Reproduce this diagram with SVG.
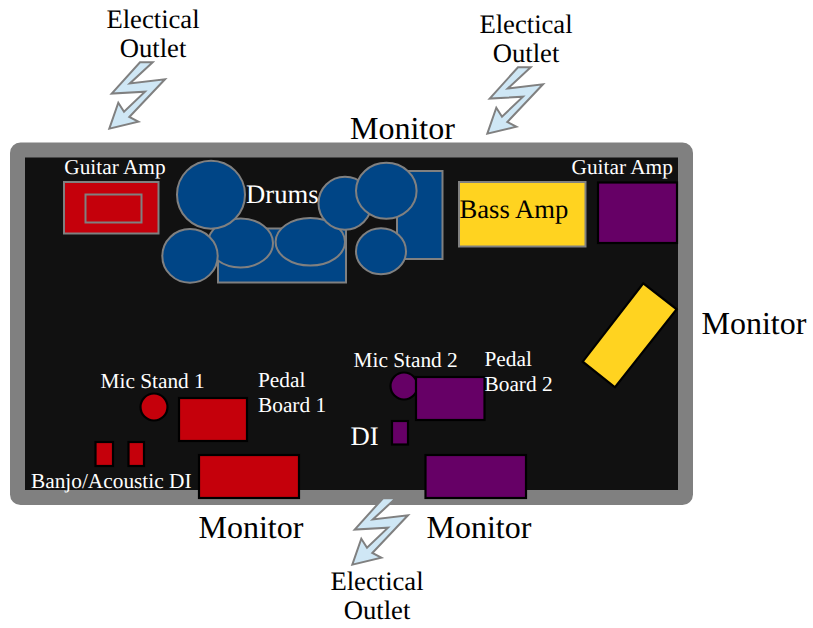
<svg xmlns="http://www.w3.org/2000/svg" width="813" height="628" viewBox="0 0 813 628">
<style>
text{font-family:"Liberation Serif","Times New Roman",serif;text-rendering:geometricPrecision}
.w{fill:#fff}.k{fill:#000}
.s{font-size:21.33px}.m{font-size:26.67px}.l{font-size:32px}
.c{text-anchor:middle}
.g{stroke:#808080;stroke-width:2}
.b{stroke:#000;stroke-width:2.2}
.blue{fill:#004586}.red{fill:#c5000b}.pur{fill:#660066}.yel{fill:#ffd320}
.bolt{fill:#cfe7f5;stroke:#808080;stroke-width:2;stroke-linejoin:miter}
</style>
<defs>
<polygon id="boltShape" class="bolt" points="140,62.300 152.700,62.300 129.800,83.500 165,79.300 129.300,117 138.300,121.700 109.300,128.700 118.300,102.700 124,111.700 145,91.700 111.700,93.500"/>
</defs>
<g id="stage"><rect x="17.5" y="150" width="668" height="347.5" rx="3" fill="#111" stroke="#808080" stroke-width="15"/></g>
<g id="outlet-1"><use href="#boltShape"/><text class="m c k" x="153" y="28">Electical</text><text class="m c k" x="153" y="57">Outlet</text></g>
<g id="outlet-2"><use href="#boltShape" x="378" y="5"/><text class="m c k" x="526" y="33">Electical</text><text class="m c k" x="526" y="62">Outlet</text></g>
<g id="outlet-3"><use href="#boltShape" x="243" y="436"/><text class="m c k" x="377" y="590">Electical</text><text class="m c k" x="377" y="619">Outlet</text></g>
<g id="guitar-amp-1"><rect class="red g" x="64" y="182" width="94.500" height="51.500"/><rect class="red g" x="85.500" y="194.500" width="56" height="28"/><text class="s w" x="64.300" y="174.300">Guitar Amp</text></g>
<g id="drums">
<rect class="blue g" x="218" y="228.500" width="128" height="54"/>
<rect class="blue g" x="397" y="171" width="45.500" height="88"/>
<ellipse class="blue g" cx="240.500" cy="243" rx="32.500" ry="24.500"/>
<ellipse class="blue g" cx="310.300" cy="241.800" rx="34.700" ry="23.800"/>
<circle class="blue g" cx="211" cy="194.700" r="34"/>
<ellipse class="blue g" cx="190" cy="255.900" rx="27.700" ry="26.800"/>
<circle class="blue g" cx="345" cy="203.300" r="26.500"/>
<ellipse class="blue g" cx="386.300" cy="190.700" rx="30.300" ry="28"/>
<ellipse class="blue g" cx="381" cy="251.300" rx="25" ry="23"/>
<text class="m w" x="246" y="202.700">Drums</text>
</g>
<g id="bass-amp"><rect class="yel g" x="459" y="182" width="126.500" height="64.500"/><text class="m k" x="459.500" y="217.700">Bass Amp</text></g>
<g id="guitar-amp-2"><rect class="pur b" x="598" y="182.500" width="79" height="60.500"/><text class="s w" x="571.500" y="174.300">Guitar Amp</text></g>
<g id="monitor-side"><polygon class="yel b" points="643.300,283.300 676.700,309.300 615,387.300 582.700,361.700"/><text class="l k" x="701.500" y="334">Monitor</text></g>
<g id="monitor-top"><text class="l k" x="350" y="139">Monitor</text></g>
<g id="mic-1"><circle class="red b" cx="154" cy="407" r="13.500"/><text class="s w" x="100.500" y="388.300">Mic Stand 1</text></g>
<g id="pedal-1"><rect class="red b" x="179" y="398" width="68" height="43"/><text class="s w" x="258" y="387.300">Pedal</text><text class="s w" x="258" y="411.700">Board 1</text></g>
<g id="di-1"><rect class="red b" x="95.500" y="442" width="17.500" height="24"/><rect class="red b" x="128.500" y="442" width="15.500" height="24"/><text class="s w" x="31" y="488.300">Banjo/Acoustic DI</text></g>
<g id="monitor-1"><rect class="red b" x="199" y="455" width="100" height="43"/><text class="l k" x="198.500" y="538">Monitor</text></g>
<g id="mic-2"><circle class="pur b" cx="404" cy="386" r="13.500"/><text class="s w" x="353.500" y="366.700">Mic Stand 2</text></g>
<g id="pedal-2"><rect class="pur b" x="416" y="377" width="68.500" height="43"/><text class="s w" x="484.500" y="366">Pedal</text><text class="s w" x="484.500" y="390.700">Board 2</text></g>
<g id="di-2"><rect class="pur b" x="392" y="421" width="16" height="23.500"/><text class="m w" x="350.500" y="445">DI</text></g>
<g id="monitor-2"><rect class="pur b" x="425.500" y="455" width="100.500" height="43"/><text class="l k" x="426.500" y="538">Monitor</text></g>
</svg>
